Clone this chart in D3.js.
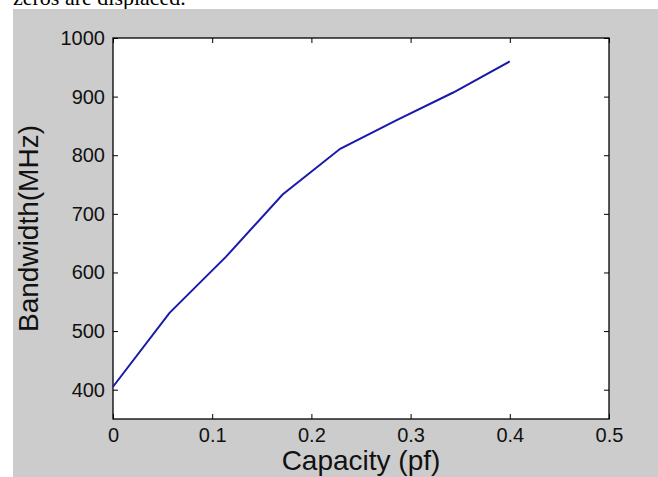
<!DOCTYPE html>
<html>
<head>
<meta charset="utf-8">
<script src="https://cdn.jsdelivr.net/npm/d3@7"></script>
<style>
  html, body { margin: 0; padding: 0; background: #ffffff; }
  svg { display: block; }
</style>
</head>
<body>
<svg id="chart" width="658" height="477"></svg>
<script>
// Data
const capacity = [0, 0.057, 0.114, 0.171, 0.229, 0.286, 0.343, 0.4];
const bandwidth = [405, 531, 627, 733, 811, 860, 907, 960];
const xTicks = [0, 0.1, 0.2, 0.3, 0.4, 0.5];
const yTicks = [400, 500, 600, 700, 800, 900, 1000];
const xTickLabels = ["0", "0.1", "0.2", "0.3", "0.4", "0.5"];
const yTickLabels = ["400", "500", "600", "700", "800", "900", "1000"];

const svg = d3.select("#chart");
const W = 658, H = 477;
const plot = { left: 113, right: 609, top: 38, bottom: 419 };

// caption fragment above the figure
svg.append("text")
  .attr("x", 13).attr("y", 5)
  .attr("font-family", "Liberation Serif, Times New Roman, serif")
  .attr("font-size", 22)
  .attr("fill", "#000")
  .text("zeros are displaced.");

// gray figure background
svg.append("rect")
  .attr("x", 13).attr("y", 9)
  .attr("width", W - 13).attr("height", H - 9)
  .attr("fill", "#cccccc");

const x = d3.scaleLinear().domain([0, 0.5]).range([plot.left, plot.right]);
const y = d3.scaleLinear().domain([350, 1000]).range([plot.bottom, plot.top]);

// white axes area
svg.append("rect")
  .attr("x", plot.left).attr("y", plot.top)
  .attr("width", plot.right - plot.left).attr("height", plot.bottom - plot.top)
  .attr("fill", "#ffffff");

const font = "Liberation Sans, Arial, Helvetica, sans-serif";
const tickLen = 5;

function styleAxis(g) {
  g.select(".domain").remove();
  g.selectAll(".tick line").attr("stroke", "#000").attr("stroke-width", 1);
  g.selectAll(".tick text").attr("font-family", font).attr("font-size", 20).attr("fill", "#111");
}

// bottom axis (ticks inward)
svg.append("g")
  .attr("transform", `translate(0,${plot.bottom})`)
  .call(d3.axisBottom(x).tickValues(xTicks).tickSizeInner(-tickLen).tickSizeOuter(0)
    .tickPadding(9).tickFormat((d, i) => xTickLabels[i]))
  .call(styleAxis);

// top axis ticks only
svg.append("g")
  .attr("transform", `translate(0,${plot.top})`)
  .call(d3.axisTop(x).tickValues(xTicks).tickSizeInner(-tickLen).tickSizeOuter(0).tickFormat(""))
  .call(styleAxis);

// left axis
svg.append("g")
  .attr("transform", `translate(${plot.left},0)`)
  .call(d3.axisLeft(y).tickValues(yTicks).tickSizeInner(-tickLen).tickSizeOuter(0)
    .tickPadding(8).tickFormat((d, i) => yTickLabels[i]))
  .call(styleAxis);

// right axis ticks only
svg.append("g")
  .attr("transform", `translate(${plot.right},0)`)
  .call(d3.axisRight(y).tickValues(yTicks).tickSizeInner(-tickLen).tickSizeOuter(0).tickFormat(""))
  .call(styleAxis);

// box
svg.append("rect")
  .attr("x", plot.left).attr("y", plot.top)
  .attr("width", plot.right - plot.left).attr("height", plot.bottom - plot.top)
  .attr("fill", "none").attr("stroke", "#000").attr("stroke-width", 1.3);

// data line
const line = d3.line().x((d, i) => x(capacity[i])).y(d => y(d));
svg.append("path")
  .datum(bandwidth)
  .attr("d", line)
  .attr("fill", "none")
  .attr("stroke", "#1a1aaa")
  .attr("stroke-width", 2);

// axis labels
svg.append("text")
  .attr("x", (plot.left + plot.right) / 2).attr("y", 470)
  .attr("text-anchor", "middle")
  .attr("font-family", font).attr("font-size", 28).attr("fill", "#111")
  .text("Capacity (pf)");

svg.append("text")
  .attr("transform", `translate(38,${(plot.top + plot.bottom) / 2}) rotate(-90)`)
  .attr("text-anchor", "middle")
  .attr("font-family", font).attr("font-size", 28).attr("fill", "#111")
  .text("Bandwidth(MHz)");
</script>
</body>
</html>
